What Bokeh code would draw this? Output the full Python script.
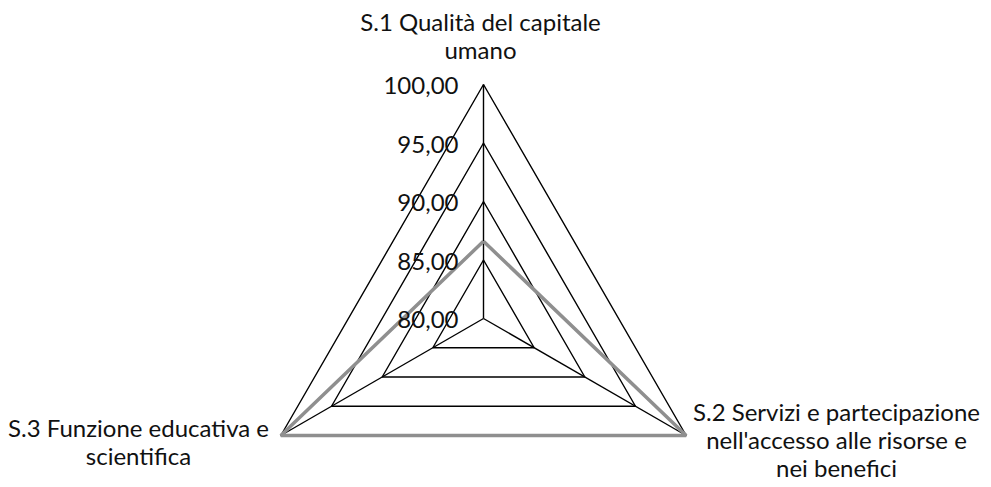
import math
from bokeh.plotting import figure
from bokeh.models import Range1d
from bokeh.core.properties import value
from bokeh.embed import file_html
from bokeh.resources import INLINE

categories = ["S.1 Qualità del capitale\numano",
              "S.2 Servizi e partecipazione\nnell'accesso alle risorse e\nnei benefici",
              "S.3 Funzione educativa e\nscientifica"]
series_values = [86.6, 100.0, 100.0]
tick_values = [80, 85, 90, 95, 100]
tick_labels = ["80,00", "85,00", "90,00", "95,00", "100,00"]

W, H = 985, 484
VMIN, VMAX = 80.0, 100.0
CX, CY, R = 483.0, 318.0, 234.0
angles = [90, -30, 210]  # S.1 top, S.2 bottom-right, S.3 bottom-left
FONT = "Lato"
FS = "24px"
TXT = "#111111"

def pt(v, ang):
    r = (v - VMIN) / (VMAX - VMIN) * R
    a = math.radians(ang)
    return CX + r * math.cos(a), CY - r * math.sin(a)

p = figure(width=W, height=H, output_backend="svg", toolbar_location=None,
           x_range=Range1d(0, W), y_range=Range1d(H, 0), min_border=0)
p.axis.visible = False
p.grid.visible = False
p.outline_line_color = None
p.background_fill_color = "white"

# rings
for tv in tick_values[1:]:
    xs = [pt(tv, a)[0] for a in angles] + [pt(tv, angles[0])[0]]
    ys = [pt(tv, a)[1] for a in angles] + [pt(tv, angles[0])[1]]
    p.line(xs, ys, line_color="black", line_width=1.4)
# spokes
for a in angles:
    x1, y1 = pt(VMAX, a)
    p.line([CX, x1], [CY, y1], line_color="black", line_width=1.4)

# series
sx = [pt(v, a)[0] for v, a in zip(series_values, angles)]
sy = [pt(v, a)[1] for v, a in zip(series_values, angles)]
sx.append(sx[0]); sy.append(sy[0])
p.line(sx, sy, line_color="#8f8f8f", line_width=3.5)

# tick labels
tx = [CX - 25 for _ in tick_values]
ty = [pt(v, 90)[1] + 1 for v in tick_values]
p.text(tx, ty, text=tick_labels, text_align="right", text_baseline="middle",
       text_font=value(FONT), text_font_size=FS, text_color=TXT)

# category labels, one text per line
anchors = [(480, 21), (836, 411), (138, 427)]
LH = 28
lx, ly, lt = [], [], []
for cat, (ax, ay) in zip(categories, anchors):
    for i, line in enumerate(cat.split("\n")):
        lx.append(ax); ly.append(ay + i * LH); lt.append(line)
p.text(lx, ly, text=lt, text_align="center", text_baseline="middle",
       text_font=value(FONT), text_font_size=FS, text_color=TXT)

open("out.html", "w").write(file_html(p, INLINE))
